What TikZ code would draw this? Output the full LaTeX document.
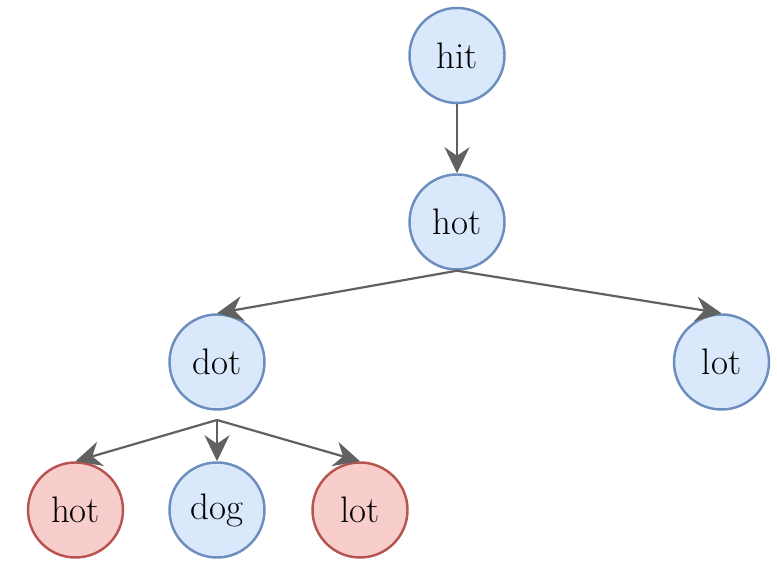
\documentclass[tikz,border=0pt]{standalone}
\usepackage{tikz}
\usetikzlibrary{arrows.meta,positioning}
\definecolor{bluefill}{HTML}{DAE8FC}
\definecolor{blueline}{HTML}{6C8EBF}
\definecolor{redfill}{HTML}{F8CECC}
\definecolor{redline}{HTML}{B85450}
\definecolor{edgegray}{HTML}{616161}
\tikzset{
  word/.style={circle,draw=blueline,fill=bluefill,line width=1.4pt,minimum size=1.9cm,inner sep=0pt,font=\fontsize{21}{24}\selectfont},
  seen/.style={word,draw=redline,fill=redfill},
  ar/.style={-{Stealth[length=0.52cm,width=0.5cm,inset=0.17cm]},line width=1.25pt,edgegray}
}
\begin{document}
\begin{tikzpicture}
\useasboundingbox (0,0) rectangle (15.54,11.3);
% ladder of words
\node[word] (hit) at (9.14,10.19) {hit};
\node[word] (hot) at (9.14,6.86) {hot};
\node[word] (dot) at (4.34,4.06) {dot};
\node[word] (lot) at (14.43,4.06) {lot};
\node[seen] (hotb) at (1.51,1.1) {hot};
\node[word] (dog) at (4.34,1.1) {dog};
\node[seen] (lotb) at (7.2,1.1) {lot};
\coordinate (split) at (4.34,2.9);
\draw[ar] (hit) -- (hot);
\draw[ar] (hot.south) -- (dot.north);
\draw[ar] (hot.south) -- (lot.north);
\draw[ar] (split) -- (hotb.north);
\draw[ar] (split) -- (dog.north);
\draw[ar] (split) -- (lotb.north);
\end{tikzpicture}
\end{document}
